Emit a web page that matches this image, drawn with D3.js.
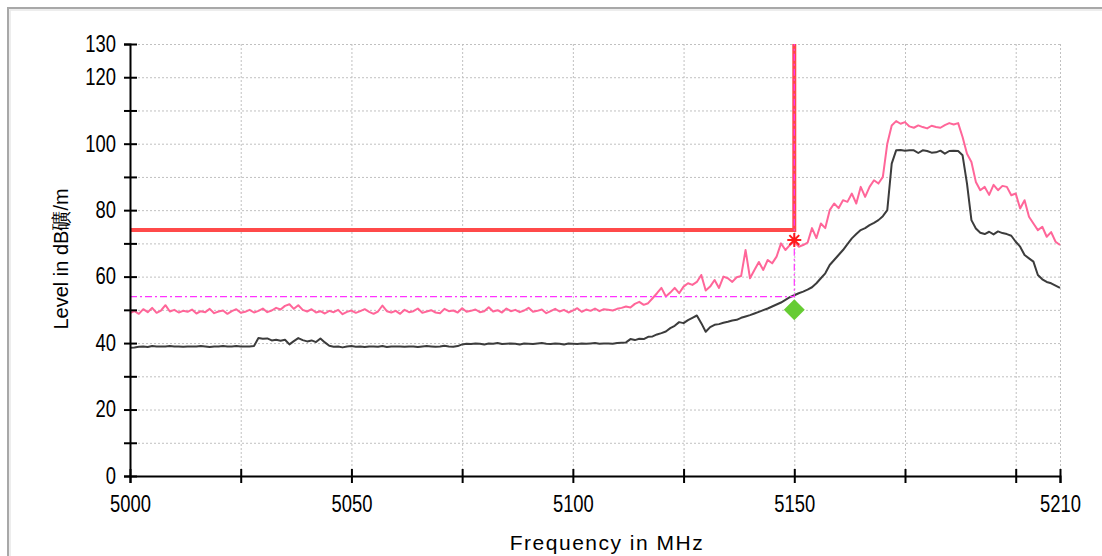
<!DOCTYPE html>
<html>
<head>
<meta charset="utf-8">
<script src="https://cdn.jsdelivr.net/npm/d3@7"></script>
<style>
  * { box-sizing: border-box; }
  body { margin: 0; padding: 0; background: #fff; overflow: hidden; }
  .tick text { font-family: 'Liberation Sans', Arial, sans-serif; font-size: 23px; fill: #000; }
  .title { font-family: 'Liberation Sans', Arial, sans-serif; fill: #000; }
</style>
</head>
<body>
<svg id="chart" width="1102" height="556"></svg>
<script>
// frequency axis, 1 MHz per sample starting at 5000 MHz
const freqStart = 5000
const freqEnd = 5210

// peak trace (pink)
const peakLevels = [
  49.0, 49.6, 48.8, 50.2, 49.3, 50.6, 49.1, 49.8, 51.4, 49.5,
  50.0, 49.2, 49.7, 49.4, 50.1, 48.9, 49.6, 49.3, 50.3, 49.0,
  49.5, 49.8, 48.8, 49.6, 50.2, 49.1, 49.4, 50.0, 49.2, 49.7,
  50.4, 49.3, 49.8, 50.6, 50.1, 51.2, 51.7, 50.3, 51.4, 50.0,
  49.5, 50.2, 49.2, 49.6, 48.9, 49.7, 49.3, 50.0, 48.7, 49.4,
  49.8, 49.1, 49.6, 50.2, 49.4, 48.8, 49.5, 51.3, 49.6, 49.2,
  49.7, 48.8, 50.0, 49.3, 49.6, 50.4, 49.1, 49.5, 49.9, 49.2,
  49.0, 50.3, 49.6, 49.8, 49.2, 50.5, 49.4, 49.7, 50.1, 49.3,
  49.6, 50.8, 49.5, 49.9, 49.2, 50.4, 49.6, 50.0, 49.3, 49.8,
  50.6, 49.4, 49.7, 50.1, 49.0, 49.6, 50.3, 49.5, 50.0, 49.2,
  49.8, 50.5, 49.4, 50.1, 49.7, 50.4, 49.6, 50.2, 50.0, 49.8,
  50.3, 50.6, 51.0, 50.7, 51.8, 52.4, 51.5, 52.0, 53.5, 55.0,
  56.6, 54.0, 55.2, 56.6, 55.0, 57.0, 58.0, 57.5, 58.4, 60.5,
  55.8, 57.0, 59.0, 56.6, 60.0, 59.5, 58.4, 59.8, 60.2, 68.0,
  59.5, 62.0, 64.4, 62.0, 65.0, 64.0, 66.0, 70.0, 68.0, 69.5,
  70.5, 69.0, 69.5, 70.2, 74.6, 71.6, 76.0, 74.6, 80.0, 82.0,
  80.6, 83.0, 82.5, 85.0, 82.0, 87.0, 84.0, 87.0, 89.0, 88.0,
  90.0, 100.0, 105.5, 106.8, 106.0, 106.5, 105.2, 104.8, 105.5, 105.0,
  104.6, 105.4, 105.0, 104.8, 105.6, 106.2, 105.8, 106.2, 102.0, 97.0,
  94.5, 88.5, 86.0, 87.0, 84.6, 87.6, 86.0, 87.3, 87.0, 84.5,
  85.0, 80.5, 83.0, 78.0, 76.0, 74.0, 75.0, 72.0, 73.4, 70.5,
  69.5
]

// average trace (dark)
const avgLevels = [
  38.6, 38.7, 38.9, 39.0, 38.8, 39.1, 39.0, 39.0, 39.0, 39.1,
  39.0, 39.0, 38.9, 39.0, 39.0, 39.0, 39.1, 39.0, 38.8, 39.0,
  39.0, 39.1, 39.0, 39.0, 39.1, 39.0, 39.0, 39.0, 39.1, 41.5,
  41.3, 41.4, 40.8, 41.0, 40.7, 41.0, 39.6, 40.6, 41.5, 40.9,
  40.5, 40.8, 40.3, 41.4, 40.2, 39.2, 38.9, 39.0, 38.7, 39.0,
  39.1, 38.9, 39.0, 38.8, 39.0, 39.0, 38.9, 39.1, 38.8, 39.0,
  39.0, 39.0, 38.9, 39.0, 39.0, 38.8, 39.0, 39.1, 39.0, 38.9,
  39.0, 39.2, 39.0, 38.9, 39.1, 39.6, 39.8, 39.7, 39.9, 39.8,
  39.6, 39.9, 39.8, 40.0, 39.7, 39.8, 39.9, 39.8, 39.6, 39.9,
  39.8, 39.7, 39.9, 40.0, 39.8, 39.7, 39.9, 39.8, 39.6, 39.9,
  39.8, 39.7, 39.9, 39.8, 39.9, 40.0, 39.8, 39.9, 39.9, 39.8,
  40.0, 40.1, 40.2, 41.2, 40.9, 41.3, 41.2, 41.9, 42.0, 42.6,
  43.0, 43.5, 44.5, 45.2, 46.3, 46.0, 46.9, 47.6, 48.3, 46.0,
  43.4, 44.8, 45.5, 45.7, 46.1, 46.4, 46.8, 47.0, 47.6, 48.0,
  48.4, 48.9, 49.4, 49.9, 50.4, 51.0, 51.6, 52.2, 53.0, 53.8,
  54.4, 55.0, 55.5, 56.1, 56.8, 58.0, 59.5, 61.0, 63.5, 65.0,
  66.5, 68.0, 69.8, 71.5, 72.8, 74.0, 74.6, 75.5, 76.2, 77.0,
  78.2, 80.0, 94.0, 98.0, 98.1, 97.9, 98.0, 98.0, 97.2, 98.0,
  97.8, 97.3, 97.4, 97.9, 97.0, 97.8, 97.9, 97.8, 96.5, 88.0,
  77.0, 74.5, 73.2, 72.8, 73.5, 72.7, 73.6, 73.1, 72.8, 72.3,
  70.5, 69.0, 66.5, 65.5, 64.5, 60.5, 59.2, 58.4, 58.0, 57.3,
  56.6
]

// limits and final measurement points
const limitFreq = 5150
const peakLimit = 74
const avgLimit = 54
const peakMarker = 71
const avgMarker = 50

// axis ticks
const xTicks = [5000, 5025, 5050, 5075, 5100, 5125, 5150, 5175, 5200, 5210]
const xTickLabels = [5000, 5050, 5100, 5150, 5210]
const yTicks = [0, 10, 20, 30, 40, 50, 60, 70, 80, 90, 100, 110, 120, 130]
const yTickLabels = [0, 20, 40, 60, 80, 100, 120, 130]

const plot = {left: 130, right: 1060, top: 44, bottom: 476}
const squeeze = 0.8 // tick digits are narrow in the original

const xScale = d3.scaleLinear().domain([freqStart, freqEnd]).range([plot.left, plot.right])
const yScale = d3.scaleLinear().domain([0, 130]).range([plot.bottom, plot.top])

const svg = d3.select('#chart')

// outer frame
svg.append('rect')
  .attr('x', 8).attr('y', 8)
  .attr('width', 1200).attr('height', 700)
  .attr('fill', 'none')
  .attr('stroke', '#a8a8a8')
  .attr('stroke-width', 2)
svg.append('rect')
  .attr('x', 10).attr('y', 10)
  .attr('width', 1200).attr('height', 700)
  .attr('fill', 'none')
  .attr('stroke', '#e8e8e8')
  .attr('stroke-width', 1.5)

// grid
const grid = svg.append('g')
  .attr('stroke', '#c0c0c0')
  .attr('stroke-width', 1)
  .attr('stroke-dasharray', '2,2')
grid.selectAll('line.h')
  .data(yTicks.filter(d => d > 0))
  .enter().append('line')
  .attr('class', 'h')
  .attr('x1', plot.left).attr('x2', plot.right)
  .attr('y1', d => yScale(d) + 0.5).attr('y2', d => yScale(d) + 0.5)
grid.selectAll('line.v')
  .data(xTicks.filter(d => d > freqStart))
  .enter().append('line')
  .attr('class', 'v')
  .attr('y1', plot.top).attr('y2', plot.bottom)
  .attr('x1', d => xScale(d) + 0.5).attr('x2', d => xScale(d) + 0.5)

// traces
const line = d3.line()
  .x((d, i) => xScale(freqStart + i))
  .y(d => yScale(d))

svg.append('path')
  .datum(peakLevels)
  .attr('d', line)
  .attr('fill', 'none')
  .attr('stroke', '#ff6699')
  .attr('stroke-width', 2)
  .attr('stroke-linejoin', 'round')

svg.append('path')
  .datum(avgLevels)
  .attr('d', line)
  .attr('fill', 'none')
  .attr('stroke', '#3c3c3c')
  .attr('stroke-width', 2)
  .attr('stroke-linejoin', 'round')

// peak limit (red)
svg.append('path')
  .attr('d', d3.line()([
    [xScale(freqStart), yScale(peakLimit)],
    [xScale(limitFreq), yScale(peakLimit)],
    [xScale(limitFreq), yScale(130)]
  ]))
  .attr('fill', 'none')
  .attr('stroke', '#ff4a4a')
  .attr('stroke-width', 4)

// average limit (magenta dash-dot)
svg.append('path')
  .attr('d', d3.line()([
    [xScale(freqStart), yScale(avgLimit)],
    [xScale(limitFreq), yScale(avgLimit)],
    [xScale(limitFreq), yScale(130)]
  ]))
  .attr('fill', 'none')
  .attr('stroke', '#ff33ff')
  .attr('stroke-width', 1.2)
  .attr('stroke-dasharray', '7,3,2,3')

// axes
const yAxis = d3.axisLeft(yScale)
  .tickValues(yTicks)
  .tickSize(6)
  .tickPadding(8)
  .tickFormat(d => yTickLabels.includes(d) ? d : '')

svg.append('g')
  .attr('transform', `translate(${plot.left}, 0)`)
  .call(yAxis)
  .call(g => g.select('.domain').attr('stroke', '#000').attr('stroke-width', 2))
  .call(g => g.selectAll('.tick line').attr('x1', -6).attr('x2', 7).attr('stroke-width', 2))
  .call(g => g.selectAll('.tick text').attr('x', -14 / squeeze).attr('transform', `scale(${squeeze},1)`))

const xAxis = d3.axisBottom(xScale)
  .tickValues(xTicks)
  .tickSize(7)
  .tickPadding(13)
  .tickFormat(d => xTickLabels.includes(d) ? d : '')

svg.append('g')
  .attr('transform', `translate(0, ${plot.bottom})`)
  .call(xAxis)
  .call(g => g.select('.domain').attr('stroke', '#000').attr('stroke-width', 2))
  .call(g => g.selectAll('.tick line').attr('y1', -7).attr('y2', 7).attr('stroke-width', 2))
  .call(g => g.selectAll('.tick text').attr('transform', `scale(${squeeze},1)`))

// final markers
svg.append('path')
  .attr('transform', `translate(${xScale(limitFreq)}, ${yScale(avgMarker)}) rotate(45)`)
  .attr('d', d3.symbol().type(d3.symbolSquare).size(220)())
  .attr('fill', '#66cc33')

const star = 7
svg.append('path')
  .attr('transform', `translate(${xScale(limitFreq)}, ${yScale(peakMarker)})`)
  .attr('d', `M${-star},0H${star}M0,${-star}V${star}M${-star * 0.7},${-star * 0.7}L${star * 0.7},${star * 0.7}M${-star * 0.7},${star * 0.7}L${star * 0.7},${-star * 0.7}`)
  .attr('stroke', '#ff1a1a')
  .attr('stroke-width', 2)

// titles
svg.append('text')
  .attr('class', 'title')
  .attr('x', 607).attr('y', 550)
  .attr('text-anchor', 'middle')
  .style('font-size', '21px')
  .style('letter-spacing', '1.5px')
  .text('Frequency in MHz')

svg.append('text')
  .attr('class', 'title')
  .attr('transform', 'translate(68, 259) rotate(-90)')
  .attr('text-anchor', 'middle')
  .style('font-size', '20px')
  .text('Level in dB礦/m')
</script>
</body>
</html>
